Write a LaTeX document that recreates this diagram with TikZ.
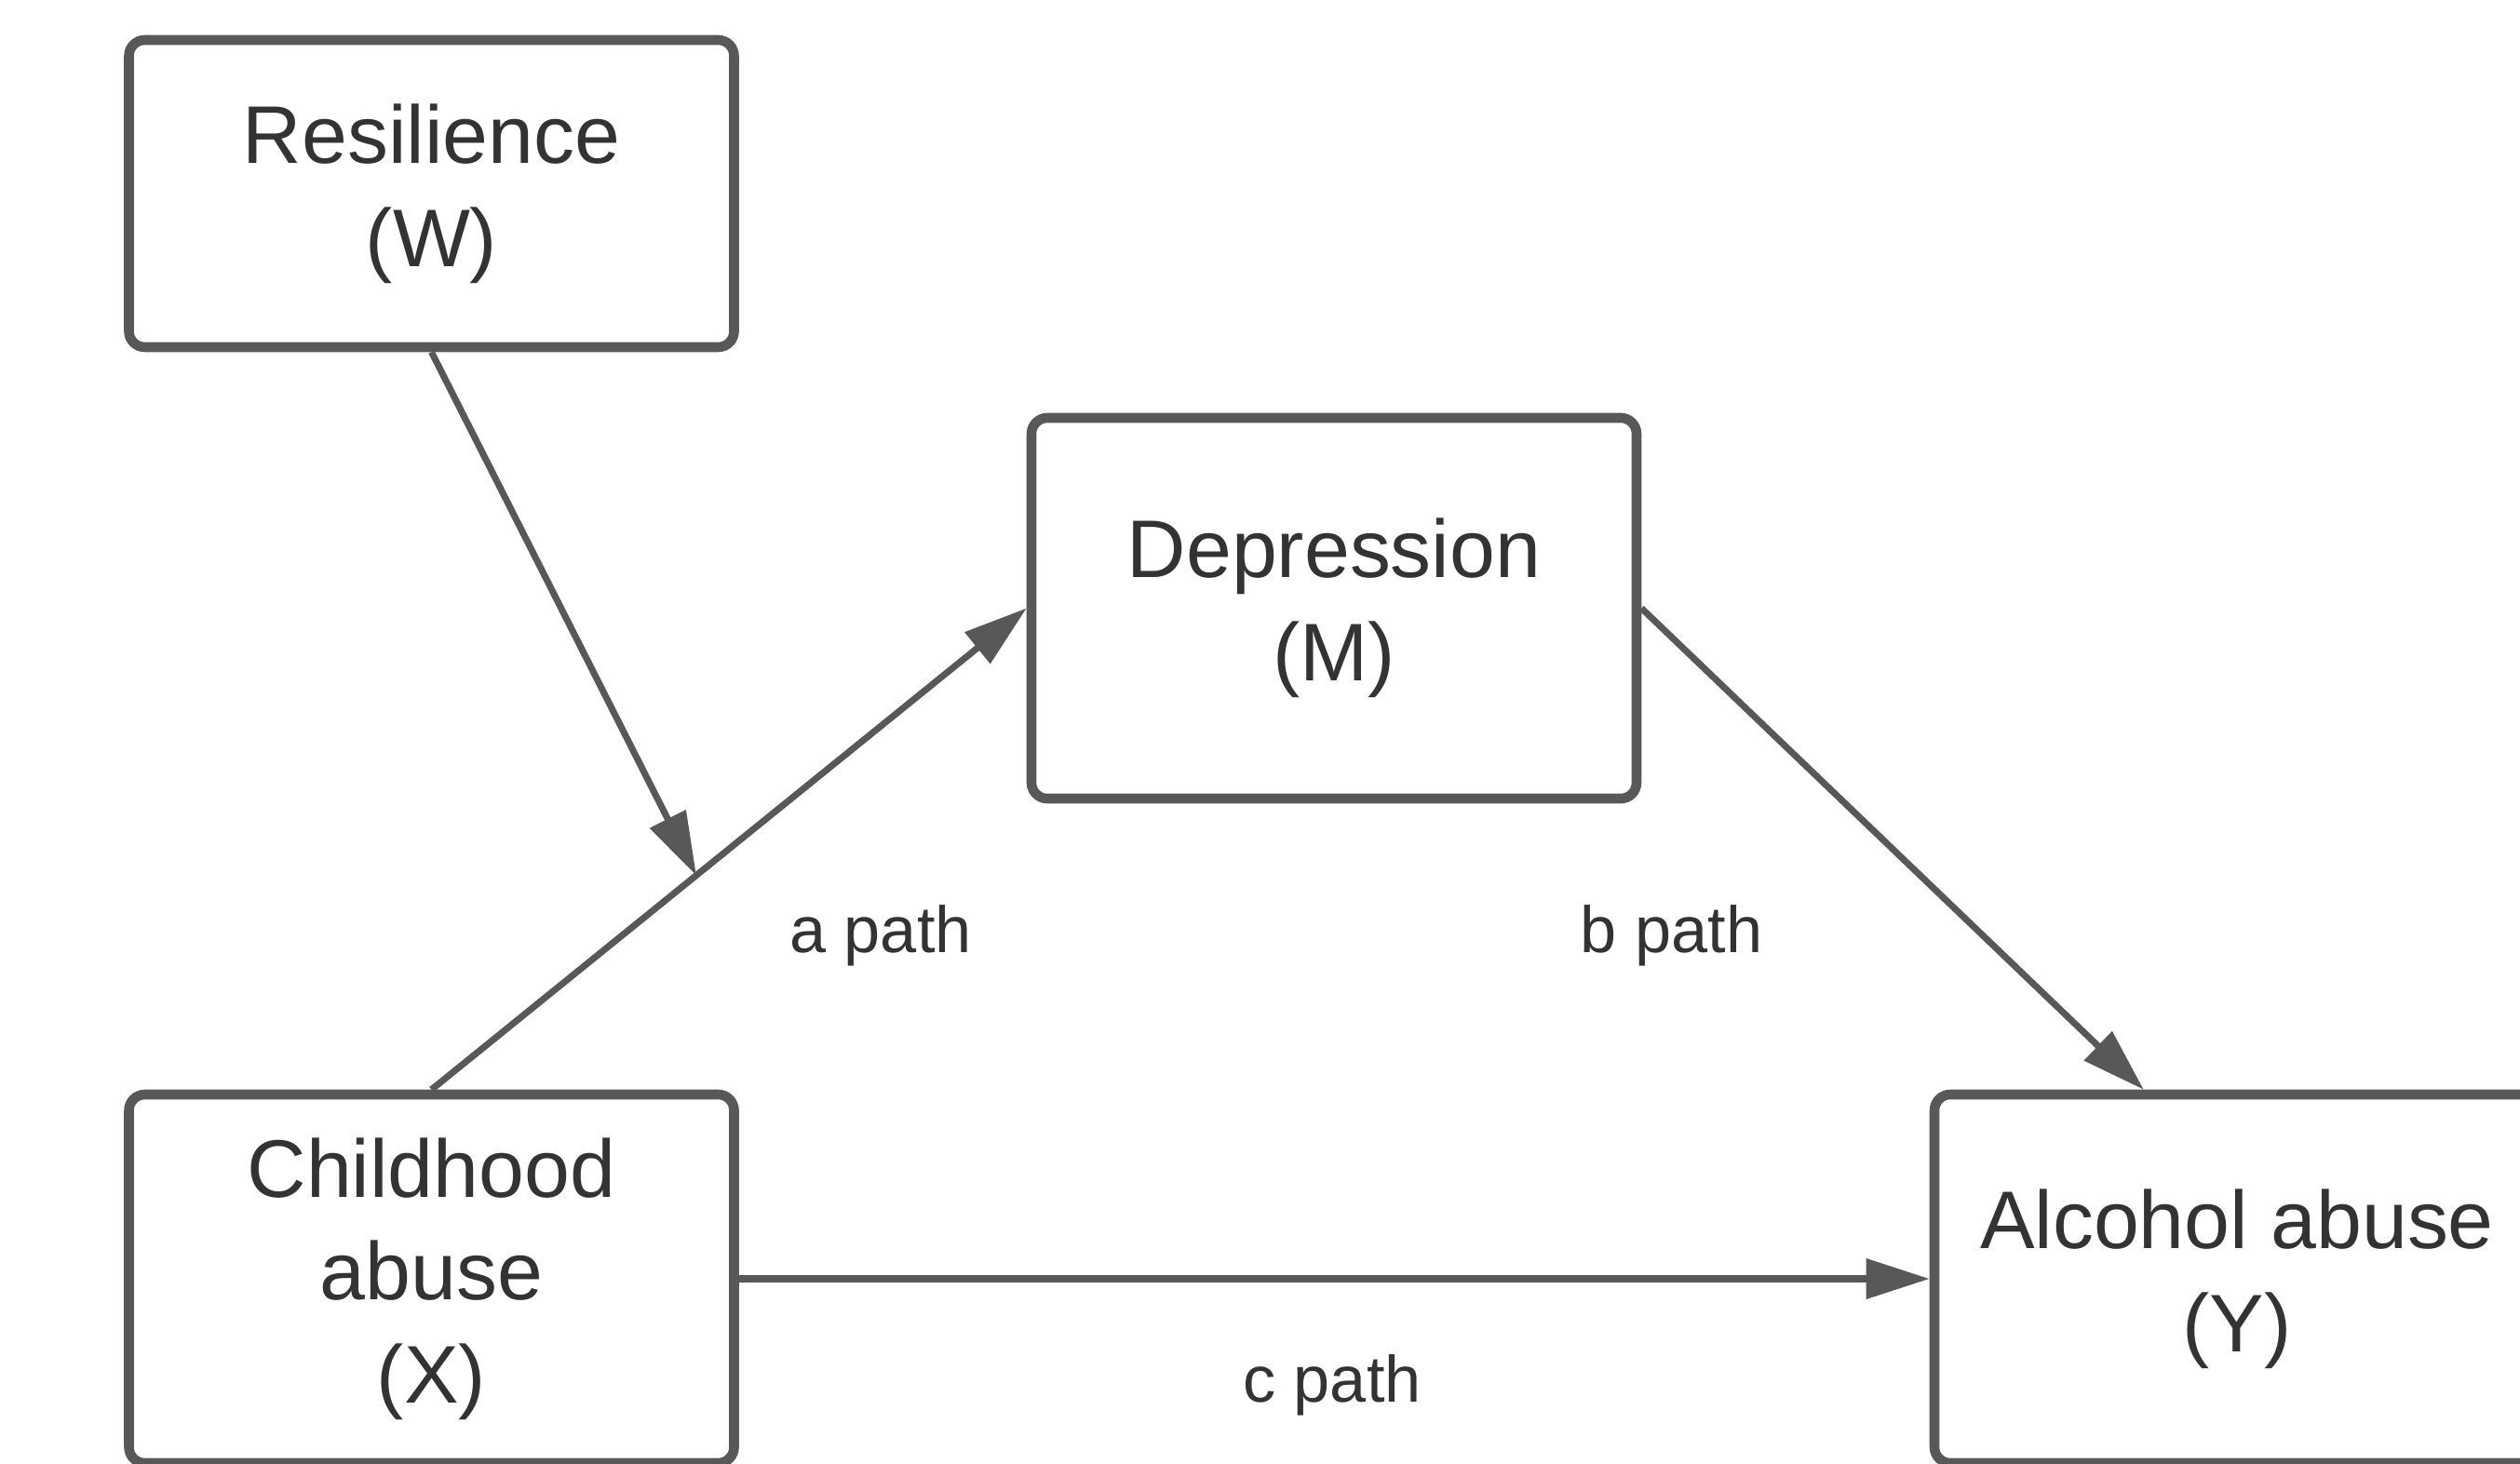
\documentclass[tikz,border=0pt]{standalone}
\usepackage{fontspec}
\setmainfont{Liberation Sans}
\usetikzlibrary{arrows.meta}

\definecolor{linegray}{HTML}{585858}
\definecolor{textgray}{HTML}{333333}

\tikzset{
	varbox/.style={draw=linegray, line width=3pt, rounded corners=0.17cm,
		align=center, text=textgray, font=\fontsize{25}{31.5}\selectfont,
		minimum width=6.5cm},
	conn/.style={draw=linegray, line width=2pt,
		-{Triangle[length=0.68cm, width=0.42cm]}},
	pathlbl/.style={text=textgray, font=\fontsize{20}{24}\selectfont}
}

\begin{document}
\begin{tikzpicture}
	
	% Page frame
	\useasboundingbox (0,0) rectangle (27.07,15.72);
	\clip (0,0) rectangle (27.07,15.72);
	
	% -----------------------------
	% Variables
	% -----------------------------
	\node[varbox, minimum height=3.30cm] (W) at (4.635,13.64) {Resilience\\(W)};
	\node[varbox, minimum height=4.09cm] (M) at (14.33,9.185) {Depression\\(M)};
	\node[varbox, minimum height=3.96cm] (X) at (4.635,1.98) {Childhood\\abuse\\(X)};
	\node[varbox, minimum height=3.96cm] (Y) at (24.03,1.98) {Alcohol abuse\\(Y)};
	
	% -----------------------------
	% Paths
	% -----------------------------
	\draw[conn] (X.north) -- coordinate[pos=0.445] (amid) (M.west);
	\draw[conn] (W.south) -- (amid); % moderation
	\draw[conn] (M.east) -- ([xshift=2.3cm]Y.north west);
	\draw[conn] (X.east) -- (Y.west);
	
	% Labels
	\node[pathlbl] (la) at (9.46,5.67) {a path};
	\node[pathlbl] (lb) at (17.955,5.67) {b path};
	\node[pathlbl] (lc) at (14.31,0.84) {c path};
	
\end{tikzpicture}
\end{document}
